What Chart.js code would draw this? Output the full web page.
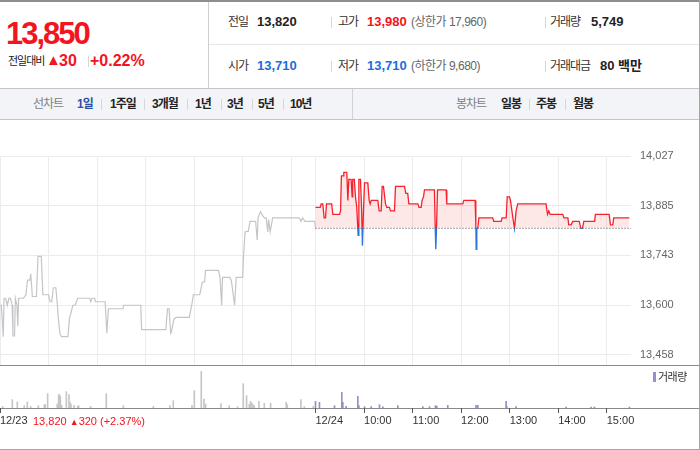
<!DOCTYPE html>
<html lang="ko">
<head>
<meta charset="utf-8">
<title>13,850</title>
<script src="https://cdn.jsdelivr.net/npm/chart.js@4.4.1/dist/chart.umd.min.js"></script>
<style>
  body { margin:0; width:700px; height:450px; overflow:hidden; background:#fff; position:relative;
         font-family:"Liberation Sans", Arial, "Noto Sans CJK KR", sans-serif; color:#222; }
  .a { position:absolute; white-space:nowrap; }
  .line { position:absolute; }
  .lbl { font-size:12px; letter-spacing:-1px; color:#333; line-height:16px; }
  .val { font-size:13px; font-weight:bold; line-height:16px; }
  .sub { font-size:12px; color:#666; letter-spacing:-0.5px; line-height:16px; }
  .sep { position:absolute; width:1px; height:11px; background:#d6d6d6; }
  .tab { font-size:12px; font-weight:bold; letter-spacing:-1px; line-height:16px; color:#222; }
  .red { color:#f2141e; }
  .blue { color:#1a6ee0; }
</style>
</head>
<body>

<!-- header -->
<div class="line" style="left:0;top:0;width:700px;height:2px;background:#8e8e8e"></div>
<div class="line" style="left:208px;top:2px;width:1px;height:86px;background:#cfcfcf"></div>
<div class="line" style="left:209px;top:44px;width:490px;height:1px;background:#e6e6e6"></div>

<div class="a red" style="left:6px;top:16px;font-size:31px;font-weight:bold;letter-spacing:-2px;line-height:36px">13,850</div>
<div class="a" style="left:8px;top:53px;font-size:11px;letter-spacing:-1px;line-height:16px;color:#222">전일대비</div>
<div class="a red" style="left:46px;top:50px;font-size:15px;line-height:20px">▲</div>
<div class="a red" style="left:59px;top:51px;font-size:16px;font-weight:bold;line-height:20px">30</div>
<div class="sep" style="left:88px;top:56px"></div>
<div class="a red" style="left:90px;top:51px;font-size:16px;font-weight:bold;line-height:20px">+0.22%</div>

<div class="a lbl" style="left:228px;top:14px">전일</div>
<div class="a val" style="left:257px;top:14px">13,820</div>
<div class="sep" style="left:331px;top:17px"></div>
<div class="a lbl" style="left:338px;top:14px">고가</div>
<div class="a val red" style="left:367px;top:14px">13,980</div>
<div class="a sub" style="left:411px;top:14px">(상한가 17,960)</div>
<div class="sep" style="left:545px;top:17px"></div>
<div class="a lbl" style="left:550px;top:14px">거래량</div>
<div class="a val" style="left:591px;top:14px">5,749</div>

<div class="a lbl" style="left:228px;top:58px">시가</div>
<div class="a val blue" style="left:257px;top:58px">13,710</div>
<div class="sep" style="left:331px;top:61px"></div>
<div class="a lbl" style="left:338px;top:58px">저가</div>
<div class="a val blue" style="left:367px;top:58px">13,710</div>
<div class="a sub" style="left:411px;top:58px">(하한가 9,680)</div>
<div class="sep" style="left:545px;top:61px"></div>
<div class="a lbl" style="left:550px;top:58px">거래대금</div>
<div class="a val" style="left:600px;top:58px">80 백만</div>

<!-- period tabs -->
<div class="line" style="left:0;top:88px;width:699px;height:30px;background:#f2f4f7;border-top:1px solid #c6c6c6;border-bottom:1px solid #c6c6c6"></div>
<div class="line" style="left:352px;top:89px;width:1px;height:30px;background:#d3d3d3"></div>
<div class="a tab" style="left:33px;top:96px;color:#808080;font-weight:normal">선차트</div>
<div class="a tab" style="left:77px;top:96px;color:#2d50a4">1일</div>
<div class="sep" style="left:101px;top:99px"></div>
<div class="a tab" style="left:110px;top:96px">1주일</div>
<div class="sep" style="left:144px;top:99px"></div>
<div class="a tab" style="left:152px;top:96px">3개월</div>
<div class="sep" style="left:187px;top:99px"></div>
<div class="a tab" style="left:195px;top:96px">1년</div>
<div class="sep" style="left:221px;top:99px"></div>
<div class="a tab" style="left:227px;top:96px">3년</div>
<div class="sep" style="left:252px;top:99px"></div>
<div class="a tab" style="left:258px;top:96px">5년</div>
<div class="sep" style="left:283px;top:99px"></div>
<div class="a tab" style="left:290px;top:96px">10년</div>
<div class="a tab" style="left:456px;top:96px;color:#808080;font-weight:normal">봉차트</div>
<div class="a tab" style="left:501px;top:96px">일봉</div>
<div class="sep" style="left:529px;top:99px"></div>
<div class="a tab" style="left:536px;top:96px">주봉</div>
<div class="sep" style="left:565px;top:99px"></div>
<div class="a tab" style="left:573px;top:96px">월봉</div>

<!-- chart frame -->
<div class="line" style="left:699px;top:0;width:1px;height:450px;background:#a5a5a5"></div>
<div class="line" style="left:0;top:449px;width:700px;height:1px;background:#a5a5a5"></div>
<div class="line" style="left:0;top:365px;width:699px;height:1px;background:#8a8a8a"></div>
<div class="line" style="left:0;top:408px;width:699px;height:1px;background:#8a8a8a"></div>

<canvas id="priceChart" width="697" height="245" style="position:absolute;left:0;top:120px"></canvas>
<canvas id="volumeChart" width="697" height="84" style="position:absolute;left:0;top:366px"></canvas>

<div class="a" style="left:653px;top:372px;width:3px;height:10px;background:#9a8ccd"></div>
<div class="a" style="left:658px;top:370px;font-size:11px;line-height:14px;color:#333;letter-spacing:-0.5px">거래량</div>
<div class="a red" style="left:33px;top:414px;font-size:11px;line-height:14px">13,820 <span style="font-size:9px">▲</span>320 (+2.37%)</div>

<script>
// minutes from 09:00 of each session; one session = 390 minutes
var sessionLength = 390;
var prevClose = 13820;

var prevMinutes = [0, 1.6, 4, 5, 7, 9, 11, 13, 15, 16, 18, 19, 21, 22, 23, 29, 32, 34, 37, 38, 40, 45, 47, 51, 53, 60,
  62, 64, 66, 69, 71, 72, 74, 76, 84, 86, 88, 90, 93, 96, 111, 112, 114, 117, 118, 130, 132, 134, 152, 153, 174, 175,
  205, 207, 209, 211, 212, 215, 218, 234, 237, 239, 247, 250, 253, 254, 270, 272, 274, 275, 284, 286, 290, 292, 300,
  301, 303, 307, 309, 316, 318, 319, 322, 325, 327, 329, 331, 332, 334, 337, 370, 372, 374, 377, 389, 390];
var prevPrices = [13600, 13600, 13510, 13620, 13620, 13600, 13620, 13620, 13600, 13512, 13512, 13620, 13600, 13540,
  13620, 13620, 13630, 13672, 13672, 13690, 13625, 13625, 13740, 13740, 13630, 13630, 13610, 13610, 13650, 13650,
  13600, 13565, 13520, 13510, 13510, 13565, 13580, 13600, 13600, 13620, 13620, 13610, 13620, 13620, 13610, 13610,
  13520, 13590, 13590, 13600, 13600, 13530, 13530, 13590, 13590, 13520, 13525, 13560, 13565, 13565, 13600, 13630,
  13630, 13665, 13668, 13700, 13700, 13680, 13600, 13680, 13680, 13670, 13600, 13680, 13680, 13740, 13810, 13812,
  13840, 13840, 13787, 13850, 13868, 13855, 13850, 13850, 13810, 13845, 13810, 13850, 13850, 13840, 13850, 13840,
  13840, 13820];

var todayMinutes = [0, 5.8, 7, 9, 10.7, 12.4, 13.6, 20, 21.4, 29.7, 31, 32, 34, 35, 38.7, 40, 41.2, 44, 45.3, 46, 48,
  49.4, 51, 52.7, 53.6, 55.6, 56.9, 58, 59.3, 60.6, 64.7, 66.3, 67.6, 68.8, 77, 78.7, 81.2, 82.4, 84, 86.5, 88.2, 91.5,
  92.7, 97.6, 98.9, 110, 111.7, 114, 115.4, 126.5, 128, 130.6, 131.8, 133.5, 134.7, 147, 148, 148.7, 149.6, 150.8,
  161.5, 162.3, 182, 183.3, 197.3, 198.2, 198.6, 199.4, 200.6, 201.9, 219, 220.4, 229.5, 230.7, 235.7, 237, 239.8,
  241, 244, 246, 248, 250, 285, 286.8, 288.4, 290, 305.7, 307, 312, 313, 316, 318, 326, 328, 330, 331.7, 345, 346,
  363, 364.6, 367.5, 368.7, 388];
var todayPrices = [13880, 13880, 13890, 13890, 13850, 13850, 13890, 13890, 13860, 13860, 13870, 13970, 13970, 13980,
  13980, 13900, 13960, 13960, 13910, 13960, 13960, 13910, 13880, 13800, 13960, 13960, 13880, 13770, 13870, 13950,
  13950, 13900, 13890, 13900, 13900, 13870, 13870, 13940, 13940, 13890, 13880, 13880, 13870, 13870, 13940, 13940,
  13920, 13920, 13890, 13890, 13880, 13880, 13900, 13910, 13930, 13930, 13820, 13760, 13820, 13930, 13930, 13890,
  13890, 13900, 13900, 13830, 13760, 13820, 13820, 13850, 13850, 13840, 13840, 13850, 13850, 13910, 13910, 13900,
  13850, 13820, 13870, 13890, 13890, 13860, 13870, 13860, 13860, 13850, 13850, 13830, 13830, 13840, 13840, 13820,
  13820, 13840, 13840, 13860, 13860, 13830, 13830, 13850, 13850];

var prevVolMinutes = [3.3, 15.2, 21.4, 30, 33.8, 37.9, 47.4, 54.8, 56, 58.9, 70.8, 72.5, 73.3, 74.6, 76.2, 82, 85.3,
  86.5, 87.7, 91.4, 96, 97.2, 112, 131.4, 152.4, 189.5, 210, 214.2, 237.3, 240.2, 248.8, 252.1, 254.2, 273.1, 283.4,
  293.7, 300.7, 304.8, 308.1, 309.8, 311.4, 312.7, 314.3, 320.1, 326.7, 334.5, 353.8, 355.1, 372, 376.1, 387.2];
var prevVolumes = [125, 625, 450, 175, 450, 125, 175, 250, 250, 1075, 300, 975, 1025, 875, 200, 1225, 1000, 425, 300,
  200, 125, 175, 125, 1075, 175, 125, 175, 550, 200, 1300, 2750, 675, 300, 325, 175, 100, 1825, 925, 275, 500, 375,
  250, 175, 500, 350, 350, 425, 250, 625, 100, 125];

var todayVolMinutes = [0, 4.9, 23.5, 32.5, 33.8, 37.9, 52.3, 53.6, 60.6, 68.8, 79.1, 83.2, 101.8, 132.7, 140.9, 148.3,
  150, 163.5, 198.5, 200.6, 235.6, 236.4, 248, 309.8, 340.7, 344.8, 388];
var todayVolumes = [500, 425, 175, 1175, 425, 125, 875, 175, 100, 100, 250, 100, 175, 100, 100, 175, 125, 200, 200,
  200, 500, 125, 100, 75, 75, 75, 75];

var priceTicks = [13458, 13600, 13743, 13885, 14027];
var gridMinutes = [0, 60, 120, 180, 240, 300, 360, 390, 450, 510, 570, 630, 690, 750];
var timeTickMinutes = [0, 390, 450, 510, 570, 630, 690, 750];
var timeTickLabels = ['12/23', '12/24', '10:00', '11:00', '12:00', '13:00', '14:00', '15:00'];

var upColor = '#f5222d';
var downColor = '#2a74dc';

function points(minutes, values, offset) {
  return minutes.map(function(m, i) { return { x: m + offset, y: values[i] }; });
}

function splitColor(ctx) {
  var chart = ctx.chart;
  var area = chart.chartArea;
  if (!area) return upColor;
  var yPix = chart.scales.y.getPixelForValue(prevClose);
  var stop = Math.min(Math.max((yPix - area.top) / (area.bottom - area.top), 0), 1);
  var g = chart.ctx.createLinearGradient(0, area.top, 0, area.bottom);
  g.addColorStop(0, upColor);
  g.addColorStop(stop, upColor);
  g.addColorStop(stop, downColor);
  g.addColorStop(1, downColor);
  return g;
}

Chart.defaults.font.family = '"Liberation Sans", Arial, sans-serif';
Chart.defaults.animation = false;

function initCharts() {
  if (typeof Chart === 'undefined') return;
  var xMax = sessionLength * 2;

  new Chart(document.getElementById('priceChart'), {
    type: 'line',
    data: {
      datasets: [{
        data: points(todayMinutes, todayPrices, sessionLength),
        borderColor: splitColor,
        borderWidth: 1.3,
        pointRadius: 0,
        tension: 0,
        fill: { target: { value: prevClose }, above: 'rgba(245,40,40,0.11)', below: 'rgba(40,110,230,0.08)' }
      }, {
        data: [{ x: sessionLength, y: prevClose }, { x: xMax, y: prevClose }],
        borderColor: '#555',
        borderWidth: 1,
        borderDash: [1, 2],
        pointRadius: 0,
        fill: false,
        order: -1
      }, {
        data: points(prevMinutes, prevPrices, 0),
        borderColor: '#c3c5c9',
        borderWidth: 1.2,
        pointRadius: 0,
        tension: 0,
        fill: false
      }]
    },
    options: {
      responsive: false,
      layout: { padding: { top: 36, left: 0, right: 0, bottom: 0 } },
      plugins: { legend: { display: false }, tooltip: { enabled: false } },
      scales: {
        x: {
          type: 'linear', min: 0, max: xMax,
          afterBuildTicks: function(scale) { scale.ticks = gridMinutes.map(function(v) { return { value: v }; }); },
          afterFit: function(scale) { scale.height = 0; scale.paddingLeft = 0; scale.paddingRight = 0; },
          ticks: { display: false },
          grid: { color: '#ececec', drawTicks: false },
          border: { display: false }
        },
        y: {
          position: 'right',
          min: 13429, max: 14027,
          afterBuildTicks: function(scale) { scale.ticks = priceTicks.map(function(v) { return { value: v }; }); },
          afterFit: function(scale) { scale.width = 66; scale.paddingTop = 0; scale.paddingBottom = 0; },
          ticks: {
            color: '#666', padding: 9, font: { size: 11 },
            callback: function(v) { return Number(v).toLocaleString('en-US'); }
          },
          grid: { color: '#ebebeb', drawTicks: false },
          border: { display: false }
        }
      }
    }
  });

  new Chart(document.getElementById('volumeChart'), {
    type: 'bar',
    data: {
      datasets: [{
        data: points(prevVolMinutes, prevVolumes, 0),
        backgroundColor: '#c6c6c8',
        barThickness: 1,
        grouped: false
      }, {
        data: points(todayVolMinutes, todayVolumes, sessionLength),
        backgroundColor: '#9a8ccd',
        barThickness: 1,
        grouped: false
      }]
    },
    options: {
      responsive: false,
      layout: { padding: { top: 0, left: 0, right: 0, bottom: 0 } },
      plugins: { legend: { display: false }, tooltip: { enabled: false } },
      scales: {
        x: {
          type: 'linear', min: 0, max: xMax, offset: false,
          afterBuildTicks: function(scale) { scale.ticks = timeTickMinutes.map(function(v) { return { value: v }; }); },
          afterFit: function(scale) { scale.height = 42; scale.paddingLeft = 0; scale.paddingRight = 0; },
          ticks: {
            align: 'start', color: '#333', padding: 1, maxRotation: 0, autoSkip: false, font: { size: 11 },
            callback: function(v) { var i = timeTickMinutes.indexOf(v); return i < 0 ? '' : timeTickLabels[i]; }
          },
          grid: { offset: false, drawOnChartArea: false, tickLength: 5, tickColor: '#555', color: '#555' },
          border: { display: false }
        },
        y: {
          position: 'right', min: 0, max: 3150,
          afterFit: function(scale) { scale.width = 66; },
          ticks: { display: false },
          grid: { display: false },
          border: { display: false }
        }
      }
    }
  });
}

document.addEventListener('DOMContentLoaded', initCharts);
</script>
</body>
</html>
